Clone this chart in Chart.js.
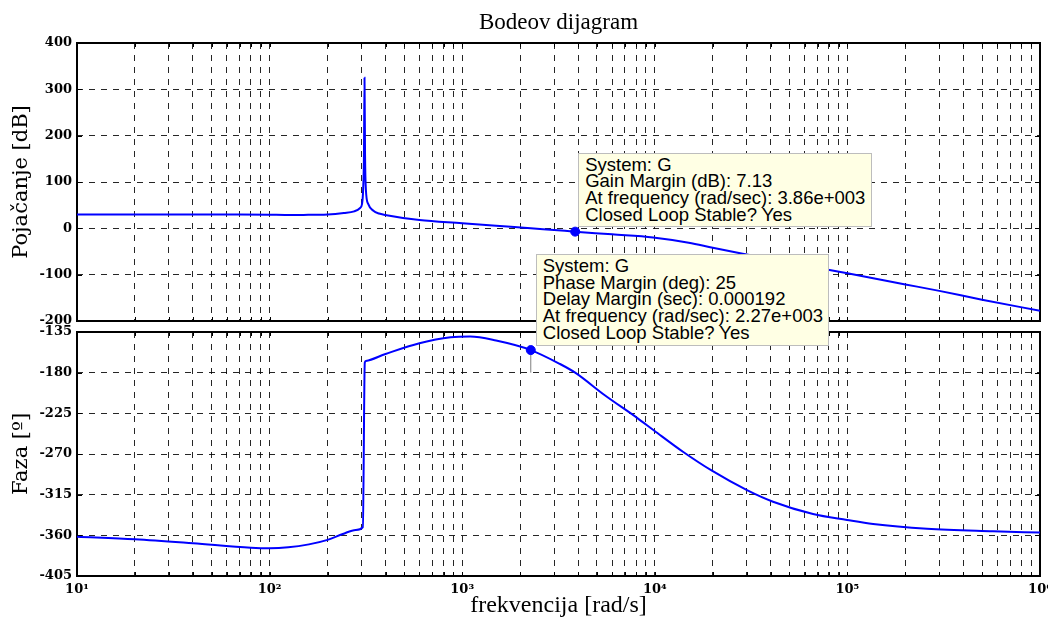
<!DOCTYPE html>
<html><head><meta charset="utf-8">
<script src="https://cdn.jsdelivr.net/npm/chart.js@4/dist/chart.umd.min.js"></script>
<style>
html,body{margin:0;padding:0;background:#fff;width:1048px;height:622px;overflow:hidden}
#wrap{position:relative;width:1048px;height:622px}
canvas{position:absolute;left:0}
#cTop{top:0}
#cBot{top:320px}
.tip{position:absolute;background:rgb(255,255,228);border:1px solid #bdbdbd;font-family:"Liberation Sans",Arial,sans-serif;font-size:18.5px;line-height:16.7px;color:#000;padding:3px 0 4px 6px;box-sizing:border-box;white-space:nowrap;overflow:hidden}
</style></head><body>
<div id="wrap">
<canvas id="cTop" width="1048" height="340"></canvas>
<canvas id="cBot" width="1048" height="302"></canvas>
<div id="tip1" class="tip"></div>
<div id="tip2" class="tip"></div>
</div>
<script>
// ---- data ----
const xTickValues = [10, 100, 1000, 10000, 100000, 1000000];
const xTickLabels = ['10¹', '10²', '10³', '10⁴', '10⁵', '10⁶'];
const gainTicks = [-200, -100, 0, 100, 200, 300, 400];
const phaseTicks = [-405, -360, -315, -270, -225, -180, -135];

const gainFreq = [10, 20, 40, 70, 100, 120, 150, 200, 243, 275, 295, 302, 306, 309, 311, 313, 316, 325, 346, 370, 398, 600, 1000, 1500, 2270, 3000, 3860, 6000, 9800, 15000, 20000, 28600, 50000, 100000, 200000, 300000, 500000, 1000000];
const gainDb   = [29.6, 29.6, 29.6, 29.6, 29.4, 28.9, 29.0, 29.8, 33, 36.7, 44, 52.7, 85, 160, 325, 160, 85, 52.7, 38, 32, 29, 18, 11.2, 5.7, 0, -3.7, -7.13, -13, -19.6, -31, -42, -55, -74, -97, -121, -135, -154, -178];

const phaseFreq = [10, 20, 40, 80, 100, 125, 160, 200, 240, 280, 305, 312, 316, 400, 600, 870, 1100, 1500, 2270, 3220, 3860, 5500, 8090, 9910, 14000, 19800, 30100, 41100, 66300, 99500, 136000, 259000, 570000, 1000000];
const phaseDeg  = [-361.5, -364.4, -368.8, -373.7, -374.3, -373.3, -370, -365, -358.5, -354, -350.8, -169, -167, -159.3, -147.5, -140.9, -140, -144.5, -155, -170.4, -180, -205, -230, -244, -267.5, -288.5, -310, -322.8, -336.4, -343, -347.5, -352.7, -355.5, -357];

const gmFreq = 3860, gmDb = -7.13;
const pmFreq = 2270, pmDeg = -155;
const gainTipLines = ['System: G', 'Gain Margin (dB): 7.13', 'At frequency (rad/sec): 3.86e+003', 'Closed Loop Stable? Yes'];
const phaseTipLines = ['System: G', 'Phase Margin (deg): 25', 'Delay Margin (sec): 0.000192', 'At frequency (rad/sec): 2.27e+003', 'Closed Loop Stable? Yes'];

// ---- helpers ----
const BLUE = '#0000ff';
const tickFont = {family: '"DejaVu Serif", serif', size: 13, weight: 'bold'};
const titleFam = '"Liberation Serif", "Times New Roman", serif';
const yTitleFam = '"DejaVu Serif", serif';

function xy(xs, ys) { return xs.map((v, i) => ({x: v, y: ys[i]})); }

function buildLogTicks(scale) {
  const t = [];
  for (let d = 0; d < xTickValues.length - 1; d++) {
    for (let m = 1; m <= 9; m++) t.push({value: m * xTickValues[d]});
  }
  t.push({value: xTickValues[xTickValues.length - 1]});
  scale.ticks = t;
}
function xLabel(v) {
  const i = xTickValues.findIndex(d => Math.abs(d - v) < 1e-6 * d);
  return i >= 0 ? xTickLabels[i] : '';
}

const frame = {
  id: 'frame',
  beforeDatasetsDraw(chart) {
    const {ctx, chartArea: a, scales} = chart;
    ctx.save();
    ctx.setLineDash([]);
    ctx.strokeStyle = '#000';
    ctx.lineWidth = 1;
    ctx.beginPath();
    scales.x.ticks.forEach(t => {
      const px = Math.round(scales.x.getPixelForValue(t.value)) + 0.5;
      ctx.moveTo(px, a.top); ctx.lineTo(px, a.top + 4);
      ctx.moveTo(px, a.bottom); ctx.lineTo(px, a.bottom - 4);
    });
    scales.y.ticks.forEach(t => {
      const py = Math.round(scales.y.getPixelForValue(t.value)) + 0.5;
      ctx.moveTo(a.left, py); ctx.lineTo(a.left + 5, py);
      ctx.moveTo(a.right, py); ctx.lineTo(a.right - 5, py);
    });
    ctx.stroke();
    ctx.lineWidth = 2;
    ctx.strokeRect(a.left, a.top, a.right - a.left, a.bottom - a.top);
    ctx.restore();
  }
};

function xScale(showLabels) {
  return {
    type: 'logarithmic', min: 10, max: 1000000,
    afterBuildTicks: buildLogTicks,
    afterFit: s => { s.height = showLabels ? 46 : 0; s.paddingLeft = 0; s.paddingRight = 0; },
    grid: {display: true, color: 'rgba(0,0,0,0.85)', lineWidth: 1, drawTicks: false},
    border: {display: false, dash: [6, 6]},
    ticks: {display: showLabels, autoSkip: false, maxRotation: 0, padding: 6, color: '#000', font: tickFont, callback: v => xLabel(v)},
    title: {display: showLabels, text: 'frekvencija [rad/s]', color: '#000', font: {family: titleFam, size: 24}, padding: {top: 0, bottom: 2}}
  };
}
function yScale(min, max, ticks, title) {
  return {
    min: min, max: max,
    afterBuildTicks: s => { s.ticks = ticks.map(v => ({value: v})); },
    afterFit: s => { s.width = 77; s.paddingTop = 0; s.paddingBottom = 0; },
    grid: {display: true, color: 'rgba(0,0,0,0.85)', lineWidth: 1, drawTicks: false},
    border: {display: false, dash: [6, 6]},
    ticks: {padding: 5, color: '#000', font: tickFont},
    title: {display: true, text: title, color: '#000', font: {family: yTitleFam, size: 21}, padding: {top: 9, bottom: 0}}
  };
}
function lineDs(data) {
  return {data: data, borderColor: BLUE, borderWidth: 2, pointRadius: 0, fill: false, cubicInterpolationMode: 'monotone', order: 2};
}
function markerLine(data) {
  return {data: data, borderColor: '#7f7f7f', borderWidth: 1, pointRadius: 0, fill: false, order: 1};
}
function dotDs(data) {
  return {data: data, showLine: false, pointRadius: 4.5, pointBackgroundColor: BLUE, pointBorderColor: BLUE, borderColor: BLUE, order: 0};
}

const common = {responsive: false, animation: false, devicePixelRatio: 1, events: []};

const topChart = new Chart(document.getElementById('cTop'), {
  type: 'line',
  data: {datasets: [
    lineDs(xy(gainFreq, gainDb)),
    markerLine([{x: gmFreq, y: 0}, {x: gmFreq, y: gmDb}]),
    dotDs([{x: gmFreq, y: gmDb}])
  ]},
  options: Object.assign({}, common, {
    layout: {padding: {left: 0, right: 8, top: 0, bottom: 19}},
    plugins: {
      legend: {display: false}, tooltip: {enabled: false},
      title: {display: true, text: 'Bodeov dijagram', color: '#000', fullSize: false, font: {family: titleFam, size: 23, weight: 'normal'}, padding: {top: 9, bottom: 6.4}}
    },
    scales: {x: xScale(false), y: yScale(-200, 400, gainTicks, 'Pojačanje [dB]')}
  }),
  plugins: [frame]
});

const BOT_TOP = 320;
const botChart = new Chart(document.getElementById('cBot'), {
  type: 'line',
  data: {datasets: [
    lineDs(xy(phaseFreq, phaseDeg)),
    markerLine([{x: pmFreq, y: -180}, {x: pmFreq, y: pmDeg}]),
    dotDs([{x: pmFreq, y: pmDeg}])
  ]},
  options: Object.assign({}, common, {
    layout: {padding: {left: 0, right: 8, top: 12, bottom: 0}},
    plugins: {legend: {display: false}, tooltip: {enabled: false}},
    scales: {x: xScale(true), y: yScale(-405, -135, phaseTicks, 'Faza [º]')}
  }),
  plugins: [frame]
});

// ---- data tips anchored to the marker points ----
function placeTip(el, lines, chart, offTop, fx, fy, dx, dy, w, h) {
  el.innerHTML = lines.map(l => '<div>' + l + '</div>').join('');
  const px = chart.scales.x.getPixelForValue(fx);
  const py = chart.scales.y.getPixelForValue(fy) + offTop;
  el.style.left = (px + dx) + 'px';
  el.style.top = (py - dy - h) + 'px';
  el.style.width = w + 'px';
  el.style.height = h + 'px';
}
placeTip(document.getElementById('tip1'), gainTipLines, topChart, 0, gmFreq, gmDb, 3, 5, 294, 74);
placeTip(document.getElementById('tip2'), phaseTipLines, botChart, BOT_TOP, pmFreq, pmDeg, 5, 4, 293, 92);
</script>
</body></html>
